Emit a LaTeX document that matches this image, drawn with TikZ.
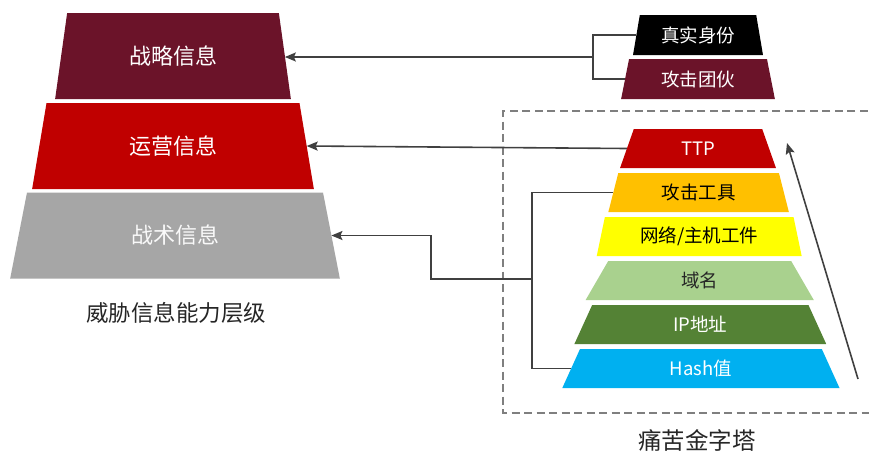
\documentclass[tikz,border=0pt]{standalone}
\usepackage{fontspec}
\setmainfont{Noto Sans CJK SC}
\usetikzlibrary{shapes.geometric,arrows.meta}
\definecolor{cmaroon}{HTML}{6B1329}
\definecolor{cred}{HTML}{C00000}
\definecolor{cgray}{HTML}{A6A6A6}
\definecolor{corange}{HTML}{FFC000}
\definecolor{cyellow}{HTML}{FFFF00}
\definecolor{clgreen}{HTML}{A9D18E}
\definecolor{cgreen}{HTML}{548235}
\definecolor{cblue}{HTML}{00B0F0}
\definecolor{cline}{HTML}{404040}
\definecolor{cdash}{HTML}{7F7F7F}
\definecolor{ctext}{HTML}{262626}
\begin{document}
\begin{tikzpicture}[x=1pt,y=-1pt,
  trap/.style={trapezium, trapezium stretches=true, inner sep=0pt, outer sep=0pt, draw=none},
  bigtrap/.style={trap, trapezium angle=76.3, minimum height=86, text=white, font=\fontsize{22}{22}\selectfont},
  smalltrap/.style={trap, trapezium angle=75, minimum height=39, font=\fontsize{18.5}{18.5}\selectfont},
  conn/.style={draw=cline, line width=1.6pt},
  arr/.style={conn, -{Stealth[length=11pt,width=9pt,inset=2pt]}},
  dashbox/.style={draw=cdash, line width=1.4pt, dash pattern=on 8pt off 4.5pt},
  caption/.style={text=ctext, font=\fontsize{22.5}{22.5}\selectfont}
]
\useasboundingbox (0,0) rectangle (869,451);
\fill[white] (0,0) rectangle (869,451);

% left pyramid
\node[bigtrap, fill=cmaroon, minimum width=236] (zl) at (173,56) {\raisebox{-2pt}{战略信息}};
\node[bigtrap, fill=cred, minimum width=282] (yy) at (173,146) {\raisebox{-2pt}{运营信息}};
\node[bigtrap, fill=cgray, minimum width=330, text=white!95!gray] (zs) at (175,235.5) {\raisebox{-2pt}{战术信息}};
\node[caption] (lcap) at (176,313) {威胁信息能力层级};

% top right pyramid
\node[smalltrap, trapezium angle=76, minimum height=40, fill=black, text=white, minimum width=130] (zsf) at (698,35) {真实身份};
\node[smalltrap, trapezium angle=76, minimum height=40, fill=cmaroon, text=white, minimum width=154] (gjt) at (698,79) {攻击团伙};

% pyramid of pain
\node[smalltrap, fill=cred, text=white, minimum width=156] (ttp) at (698,148.5) {TTP};
\node[smalltrap, fill=corange, text=black, minimum width=181] (gj) at (698.6,192.5) {攻击工具};
\node[smalltrap, fill=cyellow, text=black, minimum width=205] (wl) at (699.2,236.5) {网络/主机工件};
\node[smalltrap, fill=clgreen, text=ctext, minimum width=229] (ym) at (699.7,280.5) {域名};
\node[smalltrap, fill=cgreen, text=white, minimum width=253] (ip) at (700.3,324.5) {IP地址};
\node[smalltrap, fill=cblue, text=white, minimum width=277.5] (hs) at (700.9,368.5) {Hash值};
\node[caption, font=\fontsize{23.5}{23.5}\selectfont] (rcap) at (697,440) {痛苦金字塔};

% dashed frame
\draw[dashbox] (880,111) -- (503,111) -- (503,413) -- (880,413);

% connectors
\coordinate (j1) at (593,57);
\draw[conn] (zsf.west) -| (j1);
\draw[conn] (gjt.west) -| (j1);
\draw[arr] (j1) -- (j1 -| zl.east);

\draw[arr] (ttp.west) -- (yy.east);

\coordinate (j2) at (532,279);
\coordinate (j3) at (431,279);
\draw[conn] (gj.west) -| (j2);
\draw[conn] (hs.west) -| (j2);
\draw[arr] (j2) -- (j3) |- (zs.east);

\coordinate (a0) at (858,379);
\coordinate (a1) at (787,143);
\draw[arr] (a0) -- (a1);
\end{tikzpicture}
\end{document}
